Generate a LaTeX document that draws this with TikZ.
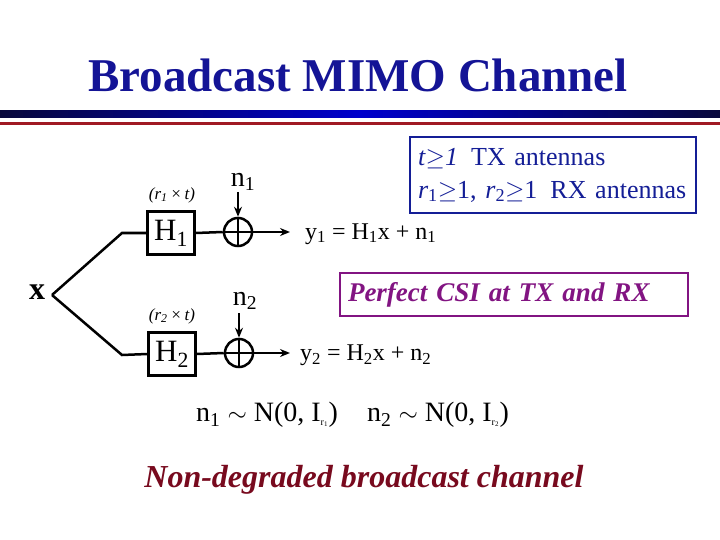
\documentclass[tikz,border=0pt]{standalone}
\usepackage{fontspec}
\setmainfont{Liberation Serif}
\usetikzlibrary{arrows.meta}
\definecolor{ttl}{RGB}{20,20,150}
\definecolor{bluebox}{RGB}{20,30,150}
\definecolor{purp}{RGB}{130,20,130}
\definecolor{dred}{RGB}{120,10,30}
\definecolor{barred}{RGB}{160,25,35}
\begin{document}
\begin{tikzpicture}[x=1pt,y=-1pt,
  blk/.style={draw,line width=2.5pt,minimum width=47pt,minimum height=43pt,inner sep=0pt,font=\fontsize{31}{31}\selectfont},
  add/.style={draw,line width=2.5pt,circle,minimum size=28pt,inner sep=0pt},
  wire/.style={line width=2.5pt},
  arr/.style={line width=2.2pt,-{Stealth[length=10pt,width=8pt]}},
  eq/.style={font=\fontsize{24}{24}\selectfont,inner sep=0pt},
  lab/.style={font=\fontsize{17}{17}\selectfont\itshape,inner sep=0pt}]
\useasboundingbox (0,0) rectangle (720,540);
\node[font=\fontsize{47}{47}\selectfont\bfseries,text=ttl] (title) at (358,75) {Broadcast MIMO Channel};
\shade[left color=ttl!40!black,right color=ttl!40!black,middle color=blue!80!black] (0,111) rectangle (720,118);
\fill[barred] (0,122) rectangle (720,125);
\node[font=\fontsize{32}{32}\selectfont\bfseries,inner sep=0pt] (x) at (37,292) {x};
\coordinate (s) at (52,295);
\coordinate (k1) at (122,233);
\coordinate (k2) at (122,355);
\node[blk] (H1) at (171,233) {H\textsubscript{1}};
\node[blk] (H2) at (172,354) {H\textsubscript{2}};
\node[add] (p1) at (238,232) {};
\node[add] (p2) at (239,353) {};
\draw[wire] (p1.north)--(p1.south) (p1.west)--(p1.east);
\draw[wire] (p2.north)--(p2.south) (p2.west)--(p2.east);
\draw[wire] (s)--(k1)--(H1.west);
\draw[wire] (s)--(k2)--(H2.west);
\draw[wire] (H1.east)--(p1.west);
\draw[wire] (H2.east)--(p2.west);
\node[lab] (d1) at (172,195) {(\textit{r}\textsubscript{1}\,×\,\textit{t})};
\node[lab] (d2) at (172,316) {(\textit{r}\textsubscript{2}\,×\,\textit{t})};
\node[eq,font=\fontsize{28}{28}\selectfont] (n1) at (243,182) {n\textsubscript{1}};
\node[eq,font=\fontsize{28}{28}\selectfont] (n2) at (245,301) {n\textsubscript{2}};
\draw[arr] (238,192) -- (p1.north);
\draw[arr] (239,313) -- (p2.north);
\coordinate (e1) at (290,232);
\coordinate (e2) at (290,353);
\draw[arr] (p1.east)--(e1);
\draw[arr] (p2.east)--(e2);
\node[eq,anchor=west] (y1) at (305,234) {y\textsubscript{1} = H\textsubscript{1}x + n\textsubscript{1}};
\node[eq,anchor=west] (y2) at (300,355) {y\textsubscript{2} = H\textsubscript{2}x + n\textsubscript{2}};
\node[eq,anchor=west,font=\fontsize{28}{28}\selectfont] (nn1) at (196,415) {n\textsubscript{1} $\sim$ N(0, I\textsubscript{\normalsize r\textsubscript{1}})};
\node[eq,anchor=west,font=\fontsize{28}{28}\selectfont] (nn2) at (367,415) {n\textsubscript{2} $\sim$ N(0, I\textsubscript{\normalsize r\textsubscript{2}})};
\node[draw=bluebox,line width=2pt,text=bluebox,align=left,anchor=north west,text width=270pt,minimum height=76pt,inner xsep=8pt,font=\fontsize{26}{33}\selectfont] (tb) at (409,136)
 {\textit{t}$\geq$\textit{1} \,TX antennas\\ \textit{r}\textsubscript{1}$\geq$1, \textit{r}\textsubscript{2}$\geq$1 \,RX antennas};
\node[draw=purp,line width=2pt,text=purp,anchor=north west,minimum height=43pt,inner xsep=8pt,text width=332pt,font=\fontsize{27}{27}\selectfont\bfseries\itshape] (pc) at (339,272) {Perfect CSI at TX and RX};
\node[text=dred,font=\fontsize{32}{32}\selectfont\bfseries\itshape] (nd) at (364,480) {Non-degraded broadcast channel};
\end{tikzpicture}
\end{document}
